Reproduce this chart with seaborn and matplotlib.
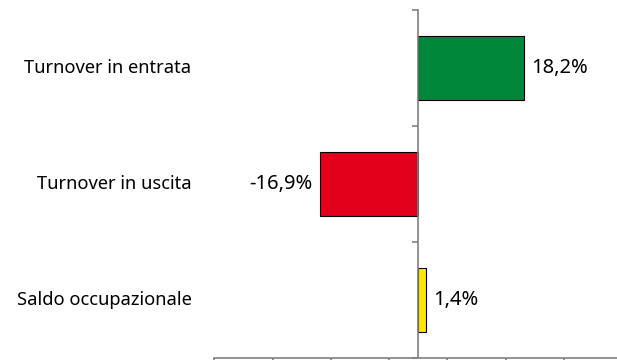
import matplotlib
matplotlib.use("Agg")
import matplotlib.pyplot as plt
import seaborn as sns
import pandas as pd
import numpy as np

categories = ["Turnover in entrata", "Turnover in uscita", "Saldo occupazionale"]
values = [18.2, -16.9, 1.4]
colors = ["#00873A", "#E2001A", "#FFE800"]
x_ticks = [-35, -25, -15, -5, 5, 15, 25, 35]

sns.set_theme(style="white")
plt.rcParams["font.family"] = ["Noto Sans", "DejaVu Sans"]

df = pd.DataFrame({"cat": categories, "val": values})

fig = plt.figure(figsize=(6.17, 3.60), dpi=100)
ax = fig.add_axes([214.3 / 617, 2 / 360, (622 - 214.3) / 617, 348 / 360])

sns.barplot(data=df, y="cat", x="val", hue="cat", palette=colors, orient="h",
            width=0.56, edgecolor="black", linewidth=0.8, legend=False, ax=ax,
            saturation=1)

ax.set_xlim(-35, 35)
ax.set_ylim(2.5, -0.5)
ax.set_xlabel("")
ax.set_ylabel("")

gray = "#808080"
for s in ["top", "right"]:
    ax.spines[s].set_visible(False)
ax.spines["left"].set_position(("data", 0))
ax.spines["left"].set_color(gray)
ax.spines["bottom"].set_color(gray)
ax.spines["left"].set_linewidth(1.2)
ax.spines["bottom"].set_linewidth(1.2)

ax.set_xticks(x_ticks)
ax.set_xticklabels([])
ax.set_yticks([-0.5, 0.5, 1.5, 2.5])
ax.set_yticklabels([])
ax.tick_params(axis="both", direction="out", length=4.5, width=1.2, color=gray,
               bottom=True, left=True)

tr = ax.get_yaxis_transform()
for i, c in enumerate(categories):
    ax.text(-0.056, i, c, transform=tr, ha="right", va="center", fontsize=13.2,
            color="black")

for cont in ax.containers:
    labs = []
    for bar in cont:
        w = bar.get_width()
        labs.append(f"{w:.1f}".replace(".", ",") + "%" if not np.isnan(w) else "")
    ax.bar_label(cont, labels=labs, padding=5, fontsize=14.5, color="black")

fig.savefig("out.png", dpi=100)
